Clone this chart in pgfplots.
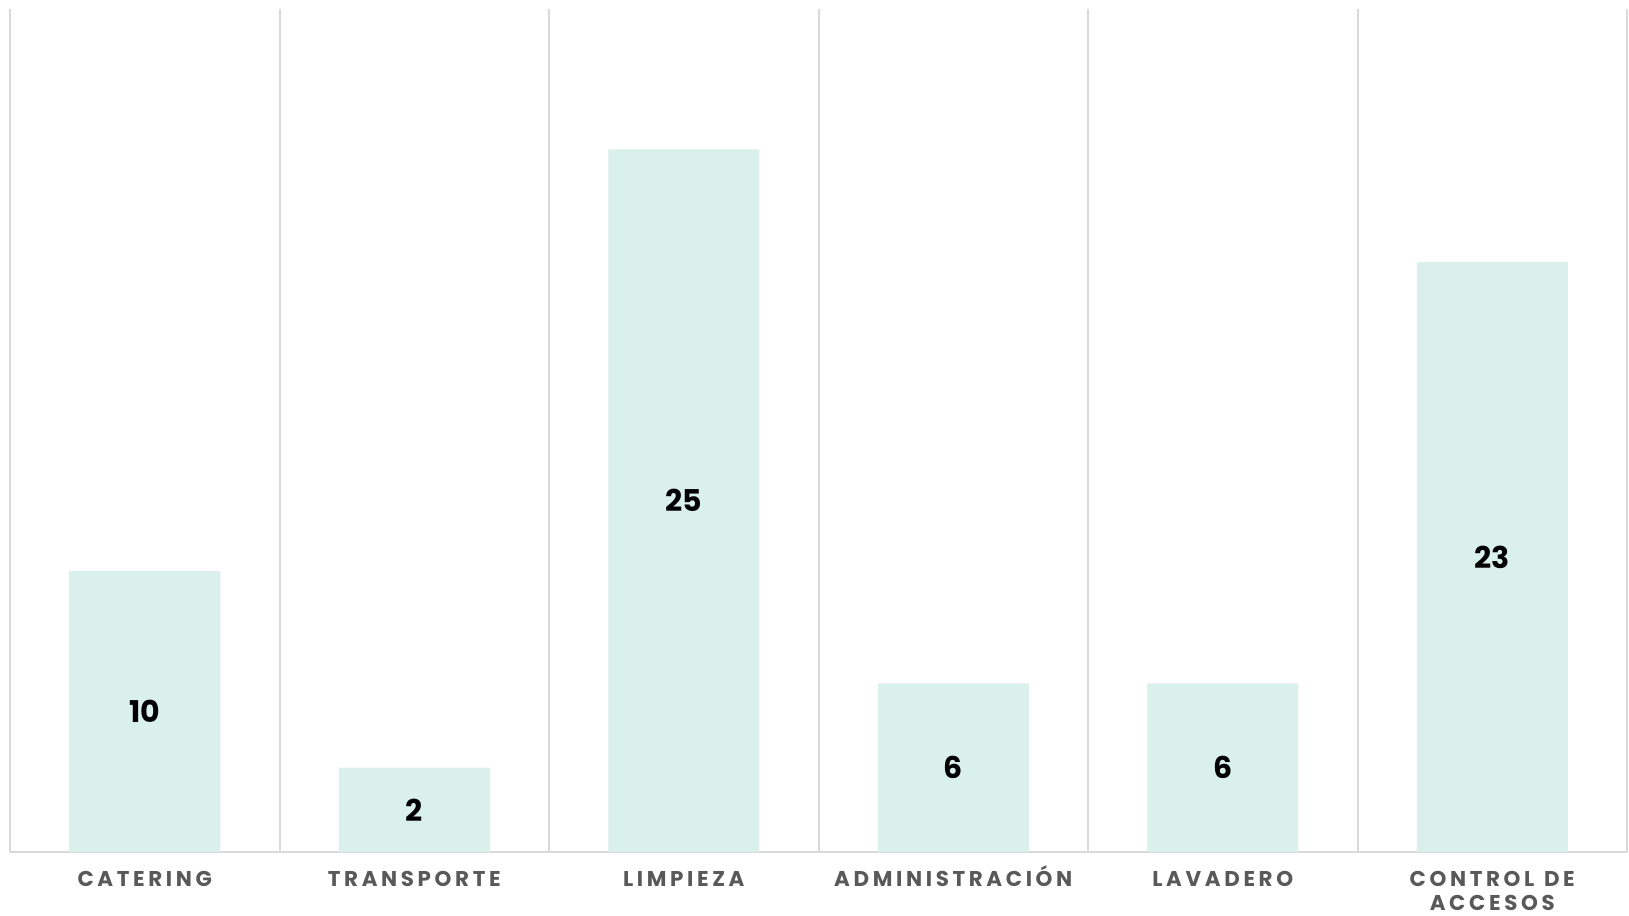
\documentclass[border=0pt]{standalone}
\usepackage{pgfplots}
\pgfplotsset{compat=1.18}
\usepackage{fontspec}
\setmainfont{Poppins}
\newfontfamily\labfont[LetterSpace=17]{Poppins}
\definecolor{barcol}{HTML}{DAF0EA}
\definecolor{gridcol}{HTML}{D9D9D9}
\definecolor{labcol}{HTML}{595959}
\newcommand\ph{\vphantom{Ó}}

\begin{document}
\begin{tikzpicture}
\begin{axis}[
    name=ax,
    scale only axis,
    width=808.5pt, height=421.5pt,
    xmin=-0.5, xmax=5.5,
    ymin=0, ymax=30,
    ybar, bar width=75.5pt,
    axis x line*=bottom,
    axis y line=none,
    x axis line style={gridcol, line width=1pt, -},
    xtick={0,1,2,3,4,5},
    xticklabels={\ph CATERING, \ph TRANSPORTE, \ph LIMPIEZA, \ph ADMINISTRACIÓN, \ph LAVADERO, {\ph CONTROL\hspace{0.45em}DE\\ACCESOS}},
    minor xtick={-0.5,0.5,1.5,2.5,3.5,4.5,5.5},
    major tick length=0pt, minor tick length=0pt,
    xminorgrids,
    minor grid style={gridcol, line width=1pt},
    ytick=\empty,
    xticklabel style={font=\labfont\bfseries\fontsize{10.7}{12}\selectfont,
        text=labcol, align=center, anchor=north, yshift=-3.2pt},
    point meta=explicit symbolic,
    nodes near coords={\bfseries\pgfplotspointmeta},
    visualization depends on={y \as \rawy},
    every node near coord/.append style={anchor=center, text=black,
        font=\fontsize{15}{18}\selectfont,
        shift={(axis direction cs:0,-\rawy/2)}},
    clip=false,
]
\addplot[fill=barcol, draw=none] coordinates {
    (0,10)[10] (1,3)[2] (2,25)[25] (3,6)[6] (4,6)[6] (5,21)[23]
};
\end{axis}
\pgfresetboundingbox
\path[use as bounding box] ([shift={(-5pt,-31.5pt)}]ax.south west) rectangle ([shift={(1pt,4.5pt)}]ax.north east);
\end{tikzpicture}
\end{document}
